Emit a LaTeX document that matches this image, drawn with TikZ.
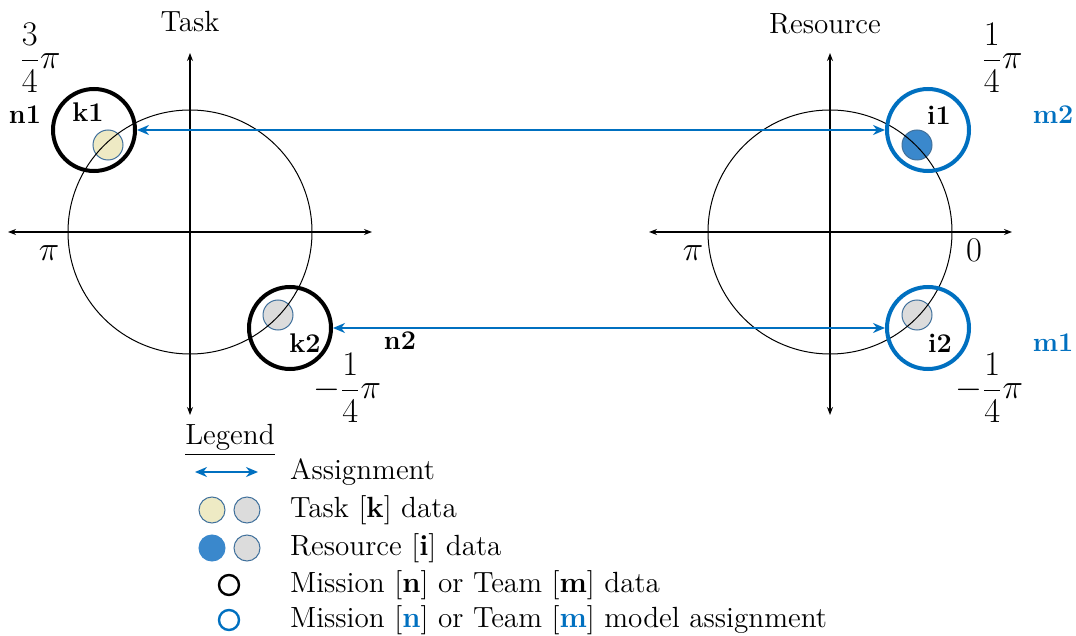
\documentclass[tikz,border=0pt]{standalone}
\usepackage{amsmath}
\usetikzlibrary{arrows.meta}
\definecolor{assignblue}{HTML}{0070C0}
\definecolor{dotblue}{HTML}{3A88CC}
\definecolor{dotyellow}{HTML}{EEEAC4}
\definecolor{dotgray}{HTML}{DCDCDC}
\definecolor{dotedge}{HTML}{41719C}

\begin{document}
\begin{tikzpicture}[
  x=0.5pt, y=-0.5pt,
  font=\fontsize{14.6}{17}\selectfont,
  axis/.style={line width=0.6pt, {Stealth[length=4pt,width=3pt]}-{Stealth[length=4pt,width=3pt]}},
  unit/.style={line width=0.5pt},
  dot/.style={circle, draw=dotedge, line width=0.5pt, inner sep=0pt, minimum size=15pt},
  ring/.style={circle, draw=black, line width=2pt, inner sep=0pt, minimum size=41pt},
  assign/.style={line width=1.2pt, draw=assignblue, {Stealth[length=6pt,width=5pt]}-{Stealth[length=6pt,width=5pt]}},
  lbl/.style={font=\fontsize{13.5}{16}\selectfont\bfseries},
  ang/.style={font=\fontsize{17}{20}\selectfont}
]
  \useasboundingbox (0,0) rectangle (1076,636);

  % centres of the two unit circles
  \coordinate (tc) at (190,232);
  \coordinate (rc) at (830,232);

  % data points (drawn under the circles)
  \node[dot, fill=dotyellow] (k1) at (108,145) {};
  \node[dot, fill=dotgray] (k2) at (278,315) {};
  \node[dot, fill=dotblue] (i1) at (917,145) {};
  \node[dot, fill=dotgray] (i2) at (917,315) {};

  % axes and unit circles
  \draw[axis] (8,232) -- (372,232);
  \draw[axis] (190,53) -- (190,415);
  \draw[unit] (tc) circle[radius=122];
  \draw[axis] (649,232) -- (1012,232);
  \draw[axis] (830,53) -- (830,415);
  \draw[unit] (rc) circle[radius=122];

  % mission / team rings
  \node[ring] (ringk1) at (94,130) {};
  \node[ring] (ringk2) at (290,328) {};
  \node[ring, draw=assignblue] (ringi1) at (928,130) {};
  \node[ring, draw=assignblue] (ringi2) at (928,328) {};

  % assignments
  \draw[assign] (ringk1) -- (ringi1);
  \draw[assign] (ringk2) -- (ringi2);

  % titles and angle labels
  \node (task) at (190,22) {Task};
  \node (resource) at (825,24) {Resource};
  \node[ang] (a34) at (40,58) {$\displaystyle\frac{3}{4}\pi$};
  \node[ang] (api) at (49,253) {$\pi$};
  \node[ang] (am14) at (347,388) {$\displaystyle-\frac{1}{4}\pi$};
  \node[ang] (b14) at (1002,58) {$\displaystyle\frac{1}{4}\pi$};
  \node[ang] (bpi) at (693,253) {$\pi$};
  \node[ang] (bzero) at (974,250) {$0$};
  \node[ang] (bm14) at (989,388) {$\displaystyle-\frac{1}{4}\pi$};

  % point labels
  \node[lbl] (tn1) at (25,115) {n1};
  \node[lbl] (tk1) at (88,112) {k1};
  \node[lbl] (tk2) at (305,343) {k2};
  \node[lbl] (tn2) at (400,341) {n2};
  \node[lbl] (ti1) at (939,115) {i1};
  \node[lbl] (ti2) at (940,343) {i2};
  \node[lbl, text=assignblue] (tm2) at (1053,115) {m2};
  \node[lbl, text=assignblue] (tm1) at (1053,343) {m1};

  % legend
  \node (legend) at (230,440) {\underline{Legend}};
  \coordinate (la) at (195,472);
  \coordinate (lb) at (258,472);
  \draw[assign, line width=1pt] (la) -- (lb);
  \node[anchor=west] (tassign) at (283,472) {Assignment};
  \node[dot, fill=dotyellow, minimum size=13pt] (lk1) at (212,510) {};
  \node[dot, fill=dotgray, minimum size=13pt] (lk2) at (247,510) {};
  \node[anchor=west] (ttask) at (283,510) {Task [\textbf{k}] data};
  \node[dot, draw=dotblue, fill=dotblue, minimum size=13pt] (li1) at (212,548) {};
  \node[dot, fill=dotgray, minimum size=13pt] (li2) at (247,548) {};
  \node[anchor=west] (tres) at (283,548) {Resource [\textbf{i}] data};
  \node[ring, line width=1.2pt, minimum size=10pt] (lring) at (229,585) {};
  \node[anchor=west] (tmis) at (283,585) {Mission [\textbf{n}] or Team [\textbf{m}] data};
  \node[ring, draw=assignblue, line width=1.2pt, minimum size=10pt] (lringb) at (229,620) {};
  \node[anchor=west] (tmod) at (283,620) {Mission [\textcolor{assignblue}{\textbf{n}}] or Team [\textcolor{assignblue}{\textbf{m}}] model assignment};
\end{tikzpicture}
\end{document}
